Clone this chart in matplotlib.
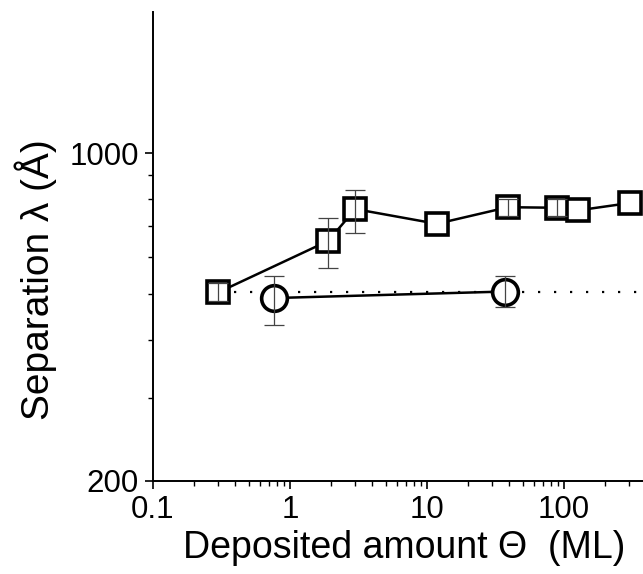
import matplotlib
matplotlib.use("Agg")
import matplotlib.pyplot as plt
from matplotlib.ticker import FixedLocator, NullFormatter, FixedFormatter

plt.rcParams['font.family'] = ['Liberation Sans', 'DejaVu Sans']

# ---- data ----
sq_x = [0.3, 1.9, 3.0, 11.8, 39, 89, 126, 303]
sq_y = [505, 650, 760, 707, 767, 765, 755, 783]
sq_err_x = [0.3, 1.9, 3.0, 39, 89]
sq_err_y = [505, 650, 760, 767, 765]
sq_err_lo = [483, 569, 677, 735, 733]
sq_err_hi = [528, 727, 835, 800, 798]

circ_x = [0.76, 37]
circ_y = [491, 507]
circ_lo = [430, 469]
circ_hi = [548, 548]

ref_level = 505
ref_x = [0.3, 400]

x_major = [0.1, 1, 10, 100]
x_major_labels = ['0.1', '1', '10', '100']
y_major = [200, 1000]
y_major_labels = ['200', '1000']
y_minor = [300, 400, 500, 600, 700, 800, 900]

# ---- figure ----
fig = plt.figure(figsize=(6.43, 5.74), dpi=100)
ax = fig.add_axes([153 / 643, 93 / 574, 490 / 643, 469 / 574])
ax.set_xscale('log')
ax.set_yscale('log')

# dotted reference level
ax.plot(ref_x, [ref_level, ref_level], color='black', lw=1.6,
        linestyle=(0, (1, 6.2)), dash_capstyle='butt', zorder=1)

# squares
ax.plot(sq_x, sq_y, color='black', lw=1.8, zorder=2)
ax.plot(sq_x, sq_y, linestyle='none', marker='s', ms=16.5, mew=2.6,
        mfc='white', mec='black', zorder=3)
ax.errorbar(sq_err_x, sq_err_y,
            yerr=[[y - lo for y, lo in zip(sq_err_y, sq_err_lo)],
                  [hi - y for y, hi in zip(sq_err_y, sq_err_hi)]],
            fmt='none', ecolor='#444444', elinewidth=0.9, capsize=7,
            capthick=0.9, zorder=4)

# circles
ax.plot(circ_x, circ_y, color='black', lw=1.8, zorder=2)
ax.plot(circ_x, circ_y, linestyle='none', marker='o', ms=18.5, mew=2.6,
        mfc='white', mec='black', zorder=3)
ax.errorbar(circ_x, circ_y,
            yerr=[[y - lo for y, lo in zip(circ_y, circ_lo)],
                  [hi - y for y, hi in zip(circ_y, circ_hi)]],
            fmt='none', ecolor='#444444', elinewidth=0.9, capsize=7,
            capthick=0.9, zorder=4)

ax.set_xlim(0.1, 378)
ax.set_ylim(200, 2000)

ax.xaxis.set_major_locator(FixedLocator(x_major))
ax.xaxis.set_major_formatter(FixedFormatter(x_major_labels))
x_minor = [m * d for d in [0.1, 1, 10, 100] for m in range(2, 10)]
ax.xaxis.set_minor_locator(FixedLocator([v for v in x_minor if v < 378]))
ax.xaxis.set_minor_formatter(NullFormatter())

ax.yaxis.set_major_locator(FixedLocator(y_major))
ax.yaxis.set_major_formatter(FixedFormatter(y_major_labels))
ax.yaxis.set_minor_locator(FixedLocator(y_minor))
ax.yaxis.set_minor_formatter(NullFormatter())

for side in ['top', 'right']:
    ax.spines[side].set_visible(False)
for side in ['left', 'bottom']:
    ax.spines[side].set_linewidth(1.4)

ax.tick_params(which='major', direction='out', length=6, width=1.2,
               labelsize=22.5, pad=4)
ax.tick_params(which='minor', direction='out', length=3.5, width=1.0)

ax.set_xlabel('Deposited amount \u0398  (ML)', fontsize=27)
ax.xaxis.set_label_coords(0.512, -0.143)
ax.xaxis.label.set_va('center')
ax.set_ylabel('Separation \u03bb (\u00c5)', fontsize=28)
ax.yaxis.set_label_coords(-0.24, 0.43)
ax.yaxis.label.set_va('center')

fig.savefig('out.png', dpi=100)
